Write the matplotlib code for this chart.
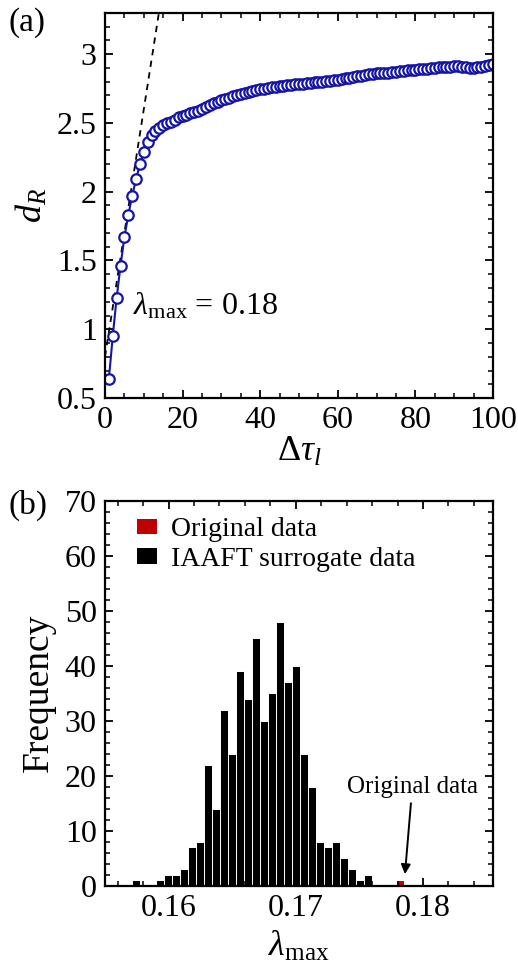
import numpy as np
import matplotlib
matplotlib.use("Agg")
import matplotlib.pyplot as plt
from matplotlib.ticker import MultipleLocator, FuncFormatter
from matplotlib.patches import Patch

plt.rcParams['font.family'] = ['Liberation Serif', 'DejaVu Serif']
plt.rcParams['mathtext.fontset'] = 'custom'
plt.rcParams['mathtext.rm'] = 'Liberation Serif'
plt.rcParams['mathtext.it'] = 'Liberation Serif:italic'
plt.rcParams['mathtext.bf'] = 'Liberation Serif:bold'

# (a) recurrence dimension vs. time delay
dtau = list(range(1, 101))
d_R = [0.64, 0.95, 1.23, 1.46, 1.67, 1.83, 1.97, 2.09, 2.20, 2.29,
       2.36, 2.41, 2.445, 2.465, 2.485, 2.50, 2.51, 2.525, 2.54, 2.55,
       2.56, 2.57, 2.58, 2.59, 2.60, 2.615, 2.63, 2.645, 2.655, 2.665,
       2.675, 2.685, 2.695, 2.705, 2.712, 2.72, 2.728, 2.735, 2.74, 2.745,
       2.75, 2.755, 2.76, 2.763, 2.767, 2.77, 2.774, 2.778, 2.78, 2.784,
       2.787, 2.79, 2.792, 2.795, 2.798, 2.80, 2.803, 2.806, 2.81, 2.815,
       2.82, 2.825, 2.83, 2.835, 2.84, 2.845, 2.85, 2.853, 2.857, 2.86,
       2.862, 2.865, 2.867, 2.87, 2.873, 2.876, 2.879, 2.882, 2.885, 2.888,
       2.89, 2.893, 2.896, 2.899, 2.902, 2.904, 2.906, 2.908, 2.91, 2.912,
       2.912, 2.908, 2.904, 2.902, 2.903, 2.905, 2.908, 2.913, 2.918, 2.927]
fit_slope = 0.18
fit_intercept = 0.80
fit_x = [0, 14]

# (b) histogram of lambda_max for surrogates
bin_width = 0.00063
surr_lambda = [0.15740, 0.15929, 0.15992, 0.16055, 0.16118, 0.16181, 0.16244,
               0.16307, 0.16370, 0.16433, 0.16496, 0.16559, 0.16622, 0.16685,
               0.16748, 0.16811, 0.16874, 0.16937, 0.17000, 0.17063, 0.17126,
               0.17189, 0.17252, 0.17315, 0.17378, 0.17441, 0.17504, 0.17567]
surr_count = [1, 1, 2, 2, 3, 7, 8, 22, 14, 32, 24, 39, 34, 45,
              30, 35, 48, 37, 40, 24, 18, 8, 7, 8, 5, 3, 1, 2]
orig_lambda = [0.17819]
orig_count = [1]

red = '#c00000'
blue = '#1414a8'

fig = plt.figure(figsize=(5.18, 9.67), dpi=100)
ax1 = fig.add_axes([0.2027, 0.5884, 0.749, 0.3982])
ax2 = fig.add_axes([0.2027, 0.0841, 0.749, 0.3981])

def style_axes(ax):
    for s in ax.spines.values():
        s.set_linewidth(1.6)
    ax.tick_params(which='both', direction='in', top=True, right=True, labelsize=23)
    ax.tick_params(which='major', length=6, width=1.3, pad=6)
    ax.tick_params(which='minor', length=3.5, width=1.1)

# ---- panel (a)
fx = np.array(fit_x)
ax1.plot(fx, fit_intercept + fit_slope * fx, '--', color='black', lw=1.3, dashes=(3.5, 3))
ax1.plot(dtau, d_R, '-', color=blue, lw=1.5, marker='o', ms=7.5, mfc='white',
         mec=blue, mew=1.6)
ax1.set_xlim(0, 100)
ax1.set_ylim(0.5, 3.3)
ax1.xaxis.set_major_locator(MultipleLocator(20))
ax1.xaxis.set_minor_locator(MultipleLocator(5))
ax1.yaxis.set_major_locator(MultipleLocator(0.5))
ax1.yaxis.set_minor_locator(MultipleLocator(0.1))
ax1.yaxis.set_major_formatter(FuncFormatter(lambda v, p: '%g' % v))
style_axes(ax1)
ax1.set_xlabel(r'$\Delta\tau_l$', fontsize=26)
ax1.set_ylabel(r'$d_R$', fontsize=26)
ax1.text(7.2, 1.17, r'$\lambda_{\mathrm{max}}$ = 0.18', fontsize=23, va='center', ha='left')

# ---- panel (b)
ax2.bar(surr_lambda, surr_count, width=bin_width, color='black', edgecolor='white', linewidth=0.7)
ax2.bar(orig_lambda, orig_count, width=bin_width, color=red, edgecolor='white', linewidth=0.7)
ax2.set_xlim(0.155, 0.1855)
ax2.set_ylim(0, 70)
ax2.xaxis.set_major_locator(MultipleLocator(0.01))
ax2.xaxis.set_minor_locator(MultipleLocator(0.002))
ax2.yaxis.set_major_locator(MultipleLocator(10))
ax2.yaxis.set_minor_locator(MultipleLocator(2))
ax2.xaxis.set_major_formatter(FuncFormatter(lambda v, p: '%g' % round(v, 4)))
style_axes(ax2)
ax2.set_xlabel(r'$\lambda_{\mathrm{max}}$', fontsize=26)
ax2.set_ylabel('Frequency', fontsize=27)

handles = [Patch(facecolor=red, edgecolor='none', label='Original data'),
           Patch(facecolor='black', edgecolor='none', label='IAAFT surrogate data')]
ax2.legend(handles=handles, loc='upper left', frameon=False, fontsize=20,
           handlelength=0.7, handleheight=0.5, handletextpad=0.5,
           borderaxespad=0.2, labelspacing=0.15, bbox_to_anchor=(0.04, 1.0))

ax2.annotate('Original data', xy=(0.17858, 2.1), xytext=(0.17916, 18.0),
             fontsize=18, ha='center', va='center',
             arrowprops=dict(arrowstyle='-|>', color='black', lw=1.4,
                             mutation_scale=14, shrinkA=2, shrinkB=0))

# label positions
ax1.yaxis.set_label_coords(-0.186, 0.5)
ax1.xaxis.set_label_coords(0.5, -0.14)
ax2.yaxis.set_label_coords(-0.17, 0.5)
ax2.xaxis.set_label_coords(0.5, -0.159)
for lab in (ax1.xaxis.label, ax1.yaxis.label, ax2.xaxis.label, ax2.yaxis.label):
    lab.set_va('center')

fig.text(8 / 518, 1 - 23 / 967, '(a)', fontsize=24, ha='left', va='center')
fig.text(8 / 518, 1 - 505 / 967, '(b)', fontsize=24, ha='left', va='center')

fig.savefig('out.png', dpi=100)
